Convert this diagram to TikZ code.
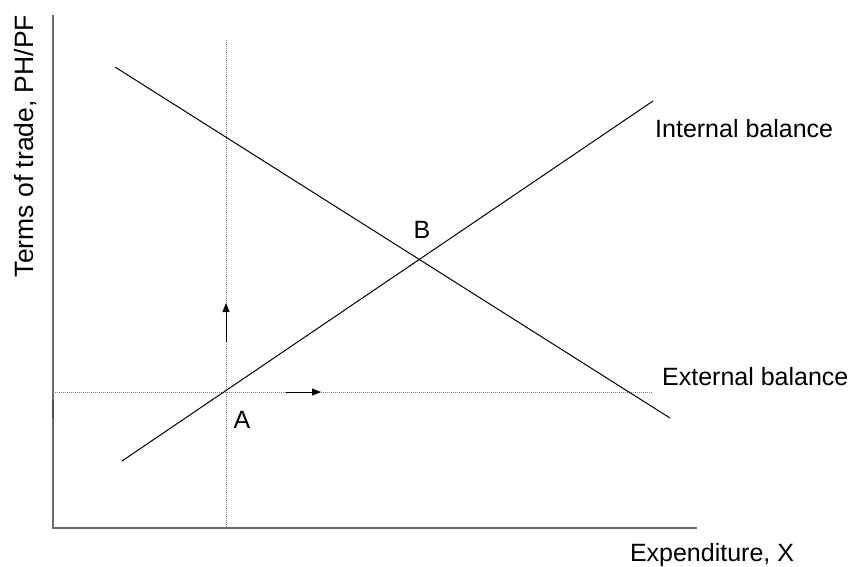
\documentclass[tikz,border=0pt]{standalone}
\usepackage{fontspec}
\setmainfont{Liberation Sans}
\usetikzlibrary{arrows.meta,positioning,calc}

\begin{document}
\begin{tikzpicture}[x=1pt,y=-1pt,
  axis/.style={draw=gray!85!black,line width=1.5pt},
  guide/.style={draw=gray,line width=0.8pt,dash pattern=on 1pt off 1pt},
  curve/.style={draw=black,line width=1pt},
  lbl/.style={font=\fontsize{25}{29}\selectfont,inner sep=0pt},
  >={Triangle[length=9pt,width=7pt]}]
\useasboundingbox (0,0) rectangle (855,566);
% axes
\coordinate (o) at (53,528);
\coordinate (ytop) at (53,15);
\coordinate (xend) at (697,528);
\draw[axis] (ytop)--(o)--(xend);
\coordinate (tk1) at (53,400); \coordinate (tk2) at (53,418);
\draw[line width=2.2pt,draw=gray!60!black] (tk1)--(tk2);
% dotted guides through A
\coordinate (vtop) at (226,40); \coordinate (vbot) at (226,528);
\coordinate (hl) at (53,392); \coordinate (hr) at (652,392);
\draw[guide] (vtop)--(vbot);
\draw[guide] (hl)--(hr);
% balance schedules
\coordinate (ib1) at (122,461); \coordinate (ib2) at (653,101);
\coordinate (eb1) at (115,67); \coordinate (eb2) at (670,418);
\draw[curve] (ib1)--(ib2);
\draw[curve] (eb1)--(eb2);
% adjustment arrows
\coordinate (up1) at (226,342); \coordinate (up2) at (226,303);
\coordinate (rt1) at (286,392); \coordinate (rt2) at (321,392);
\draw[curve,->] (up1)--(up2);
\draw[curve,->] (rt1)--(rt2);
% labels
\node[lbl] (pa) at (242,420) {A};
\node[lbl] (pb) at (422,230) {B};
\node[lbl,anchor=west] (ib) at (655,129) {Internal balance};
\node[lbl,anchor=west] (eb) at (662,377) {External balance};
\node[lbl] (xlab) at (712,555) {Expenditure, X};
\node[lbl,rotate=90,font=\fontsize{26.5}{30}\selectfont] (ylab) at (26,146) {Terms of trade, PH/PF};
\end{tikzpicture}
\end{document}
